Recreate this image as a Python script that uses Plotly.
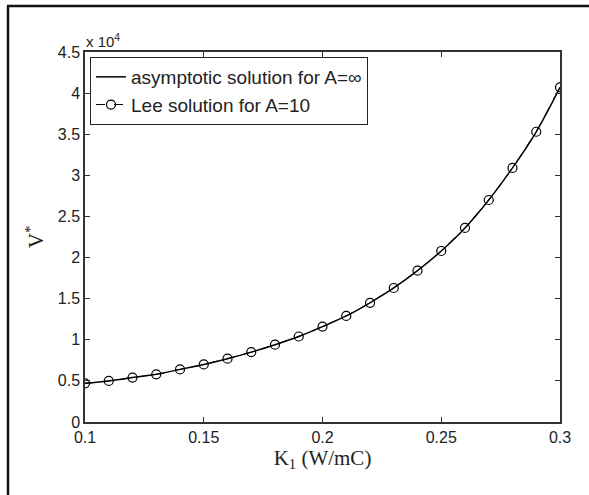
import plotly.graph_objects as go

# Data
k1 = [0.10, 0.11, 0.12, 0.13, 0.14, 0.15, 0.16, 0.17, 0.18, 0.19, 0.20,
      0.21, 0.22, 0.23, 0.24, 0.25, 0.26, 0.27, 0.28, 0.29, 0.30]
v_lee = [4700, 5000, 5400, 5800, 6400, 7000, 7700, 8500, 9400, 10400, 11600,
         12900, 14500, 16300, 18400, 20800, 23600, 27000, 30900, 35300, 40700]
v_asym = v_lee[:]

x_ticks = [0.1, 0.15, 0.2, 0.25, 0.3]
x_tick_text = ["0.1", "0.15", "0.2", "0.25", "0.3"]
y_ticks = [0, 5000, 10000, 15000, 20000, 25000, 30000, 35000, 40000, 45000]
y_tick_text = ["0", "0.5", "1", "1.5", "2", "2.5", "3", "3.5", "4", "4.5"]

W, H = 589, 495
L, R, T, B = 85, 29, 52, 73
pw, ph = W - L - R, H - T - B

def px_x(p):
    return (p - L) / pw

def px_y(p):
    return (H - B - p) / ph

fig = go.Figure()
fig.add_trace(go.Scatter(
    x=k1, y=v_asym, mode="lines", name="asymptotic solution for A=\u221e",
    line=dict(color="black", width=1.5, shape="spline"),
))
fig.add_trace(go.Scatter(
    x=k1, y=v_lee, mode="lines+markers", name="Lee solution for A=10",
    line=dict(color="black", width=1, dash="dash"),
    marker=dict(symbol="circle-open", size=9, color="black", line=dict(width=1.2)),
))

axis_common = dict(
    showline=True, linecolor="#333333", linewidth=1.5, mirror="ticks",
    ticks="inside", ticklen=5, tickcolor="#333333", showgrid=False, zeroline=False,
    tickfont=dict(family="Liberation Sans, Arial", size=16, color="#222222"),
)

fig.update_layout(
    width=W, height=H,
    margin=dict(l=L, r=R, t=T, b=B),
    paper_bgcolor="white", plot_bgcolor="white",
    showlegend=True,
    legend=dict(
        x=px_x(90), y=px_y(57), xanchor="left", yanchor="top",
        bgcolor="white", bordercolor="#222222", borderwidth=1,
        font=dict(family="Liberation Sans, Arial", size=19, color="#222222"),
        tracegroupgap=0, itemwidth=30,
    ),
    xaxis=dict(
        range=[0.1, 0.3], tickvals=x_ticks, ticktext=x_tick_text,
        title=dict(text="K<sub>1</sub> (W/mC)", standoff=4,
                   font=dict(family="Liberation Serif, Times New Roman", size=21, color="#222222")),
        **axis_common,
    ),
    yaxis=dict(
        range=[0, 45000], tickvals=y_ticks, ticktext=y_tick_text,
        title=dict(text="V<sup>*</sup>", standoff=8,
                   font=dict(family="Liberation Serif, Times New Roman", size=21, color="#222222")),
        **axis_common,
    ),
    annotations=[dict(
        text="x 10<sup>4</sup>", xref="paper", yref="paper",
        x=px_x(84), y=px_y(52), xanchor="left", yanchor="bottom", showarrow=False,
        font=dict(family="Liberation Sans, Arial", size=15, color="#222222"),
    )],
    shapes=[
        dict(type="line", xref="paper", yref="paper",
             x0=px_x(8), x1=px_x(8), y0=px_y(6), y1=px_y(500),
             line=dict(color="#111111", width=2.5)),
        dict(type="line", xref="paper", yref="paper",
             x0=px_x(7), x1=px_x(600), y0=px_y(6), y1=px_y(6),
             line=dict(color="#111111", width=2.5)),
    ],
)

fig.write_html("out.html")
